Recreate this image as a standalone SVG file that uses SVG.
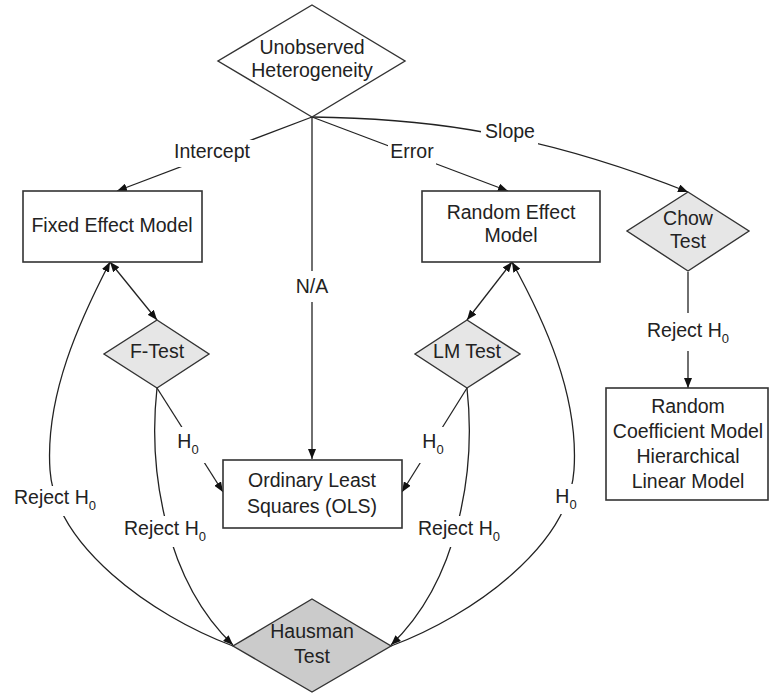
<svg xmlns="http://www.w3.org/2000/svg" width="770" height="697" viewBox="0 0 770 697">
<style>
text{font-family:"Liberation Sans",Arial,sans-serif;font-size:19.5px;fill:#222;text-anchor:middle}
.sub{font-size:13px}
.box{fill:#fff;stroke:#333;stroke-width:1.6}
.dia{fill:#fff;stroke:#333;stroke-width:1.4}
.g1{fill:#e6e6e6}
.g2{fill:#cbcbcb}
.ln{fill:none;stroke:#222;stroke-width:1.3}
.arr{marker-end:url(#ah)}
.bg{fill:#fff}
</style>
<defs>
<marker id="ah" markerUnits="userSpaceOnUse" viewBox="0 0 10 8" refX="10" refY="4" markerWidth="10" markerHeight="8" orient="auto-start-reverse">
<path d="M0,0 L10,4 L0,8 z" fill="#111"/>
</marker>
</defs>
<rect width="770" height="697" fill="#fff"/>
<g id="connectors">
<path class="ln arr" d="M312,117 L117,191"/>
<path class="ln arr" d="M312,117 L312,459"/>
<path class="ln arr" d="M312,117 L508,191"/>
<path class="ln arr" d="M312,117 C400,118 520,125 688,192"/>
<path class="ln arr" d="M688,272 L688,388"/>
<path class="ln arr" d="M110,262 L157,320" style="marker-start:url(#ah)"/>
<path class="ln arr" d="M512,262 L467,320" style="marker-start:url(#ah)"/>
<path class="ln arr" d="M157,388 L223,492"/>
<path class="ln arr" d="M467,388 L402,492"/>
<path class="ln arr" d="M157,388 C148,470 165,580 233,645"/>
<path class="ln arr" d="M467,388 C476,470 459,580 391,645"/>
<path class="ln arr" d="M233,646 C150,615 55,545 50,470 C45,395 80,320 110,262"/>
<path class="ln arr" d="M391,646 C474,615 569,545 574,470 C579,395 544,320 512,262"/>
<g id="labels">
<rect class="bg" x="170" y="140" width="84" height="27"/>
<text x="212" y="158">Intercept</text>
<rect class="bg" x="388" y="144" width="48" height="21"/>
<text x="412" y="158">Error</text>
<rect class="bg" x="481" y="120" width="57" height="25"/>
<text x="510" y="138">Slope</text>
<rect class="bg" x="296" y="271" width="32" height="31"/>
<text x="312" y="293">N/A</text>
<rect class="bg" x="175" y="427" width="31" height="36"/>
<text x="188" y="448">H<tspan class="sub" dy="6">0</tspan></text>
<rect class="bg" x="418" y="427" width="30" height="36"/>
<text x="433" y="448">H<tspan class="sub" dy="6">0</tspan></text>
<rect class="bg" x="12" y="486" width="87" height="30"/>
<text x="55" y="504">Reject H<tspan class="sub" dy="6">0</tspan></text>
<rect class="bg" x="121" y="516" width="88" height="31"/>
<text x="165" y="535">Reject H<tspan class="sub" dy="6">0</tspan></text>
<rect class="bg" x="416" y="516" width="86" height="31"/>
<text x="459" y="535">Reject H<tspan class="sub" dy="6">0</tspan></text>
<rect class="bg" x="553" y="484" width="28" height="30"/>
<text x="566" y="503">H<tspan class="sub" dy="6">0</tspan></text>
<rect class="bg" x="645" y="313" width="87" height="38"/>
<text x="688" y="337">Reject H<tspan class="sub" dy="6">0</tspan></text>
</g>
</g>
<g id="unobserved">
<polygon class="dia" points="312,5 405,61 312,117 218,61"/>
<text x="312" y="54">Unobserved</text>
<text x="312" y="77">Heterogeneity</text>
</g>
<g id="fixed-effect">
<rect class="box" x="23" y="191" width="179" height="71"/>
<text x="112" y="232">Fixed Effect Model</text>
</g>
<g id="random-effect">
<rect class="box" x="422" y="191" width="178" height="71"/>
<text x="511" y="219">Random Effect</text>
<text x="511" y="242">Model</text>
</g>
<g id="chow-test">
<polygon class="dia g1" points="688,192 749,231 688,271 627,231"/>
<text x="688" y="225">Chow</text>
<text x="688" y="248">Test</text>
</g>
<g id="f-test">
<polygon class="dia g1" points="157,320 209,354 157,388 104,354"/>
<text x="157" y="358">F-Test</text>
</g>
<g id="lm-test">
<polygon class="dia g1" points="467,320 520,354 467,388 415,354"/>
<text x="467" y="358">LM Test</text>
</g>
<g id="ols">
<rect class="box" x="223" y="460" width="179" height="68"/>
<text x="312" y="487">Ordinary Least</text>
<text x="312" y="513">Squares (OLS)</text>
</g>
<g id="random-coefficient">
<rect class="box" x="606" y="388" width="162" height="112"/>
<text x="688" y="413">Random</text>
<text x="688" y="438">Coefficient Model</text>
<text x="688" y="463">Hierarchical</text>
<text x="688" y="488">Linear Model</text>
</g>
<g id="hausman">
<polygon class="dia g2" points="312,599 391,646 312,692 233,646"/>
<text x="312" y="638">Hausman</text>
<text x="312" y="663">Test</text>
</g>
</svg>
